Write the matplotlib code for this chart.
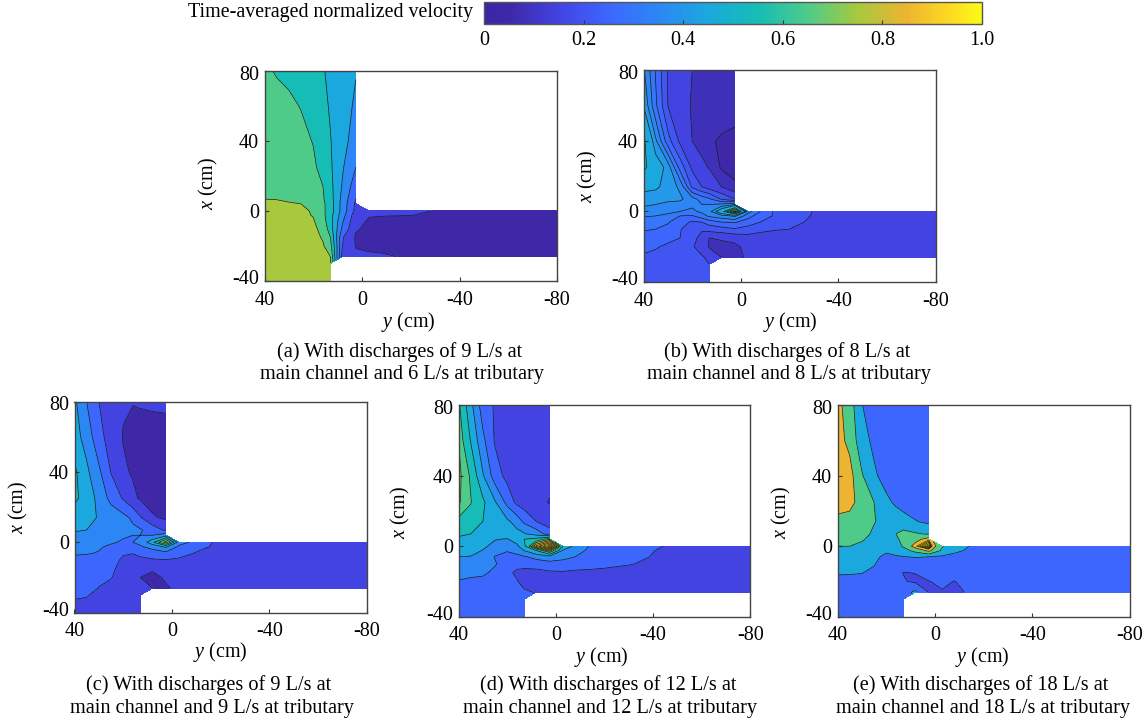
import numpy as np
import matplotlib
matplotlib.use('Agg')
import matplotlib.pyplot as plt
from matplotlib.cm import ScalarMappable
from matplotlib.colors import LinearSegmentedColormap, Normalize
from matplotlib.transforms import ScaledTranslation

plt.rcParams['font.family'] = ['Liberation Serif', 'DejaVu Serif']
plt.rcParams['mathtext.fontset'] = 'custom'
plt.rcParams['mathtext.rm'] = 'Liberation Serif'
plt.rcParams['mathtext.it'] = 'Liberation Serif:italic'

W, H = 1148, 723

# nodes of the velocity tables (cm)
y_nodes = [40, 35, 30, 25, 20, 16, 13, 8, 2.5, -3, -8, -14, -20, -30, -45, -80]
x_nodes = [80, 60, 40, 25, 14, 7, 4, 0, -2.5, -6, -10, -15, -20, -26, -30, -40]

# colours
bar_stops = [0, 0.05, 0.15, 0.25, 0.35, 0.45, 0.55, 0.65, 0.75, 0.85, 0.95, 1]
bar_colors = ['#3B26A5', '#3E28A8', '#4343E3', '#3D66FF', '#2C87F4', '#1BA8DE',
              '#15BDB6', '#4ECB8A', '#A6C93E', '#EDB431', '#FFE020', '#F9FB15']
bar_ticks = [0, 0.2, 0.4, 0.6, 0.8, 1.0]
bar_labels = ['0', '0.2', '0.4', '0.6', '0.8', '1.0']

# velocity tables, one row per x node. Rows stop where the channel wall is.
vel_a = [
    [.62, .59, .575, .55, .525, .505, .485, .45, .405],
    [.66, .64, .62, .595, .565, .525, .49, .44, .385],
    [.68, .67, .655, .63, .595, .55, .505, .43, .36],
    [.69, .68, .67, .65, .62, .56, .515, .41, .30],
    [.695, .69, .68, .67, .64, .60, .53, .39, .24],
    [.697, .695, .69, .68, .65, .61, .54, .37, .20],
    [.73, .72, .705, .70, .66, .62, .55, .36, .18],
    [.74, .735, .73, .72, .69, .62, .55, .36, .17, .13, .12, .115, .11, .098, .085, .07],
    [.74, .735, .73, .72, .695, .625, .54, .34, .14, .105, .103, .102, .101, .09, .08, .07],
    [.75, .745, .74, .73, .71, .64, .54, .31, .125, .09, .085, .08, .08, .075, .07, .065],
    [.76, .755, .75, .74, .72, .67, .55, .28, .11, .08, .075, .07, .07, .065, .065, .06],
    [.77, .765, .76, .75, .73, .69, .60, .21, .09, .07, .07, .065, .065, .06, .06, .06],
    [.78, .775, .77, .76, .745, .71, .64, .20, .095, .075, .07, .065, .065, .06, .06, .06],
    [.80, .79, .78, .77, .76, .74, .70, .15, .115, .12, .115, .10, .09, .085, .08, .07],
    [.80, .80, .79, .78, .77, .75, .72],
    [.80, .80, .79, .79, .78, .77, .75],
]
vel_b = [
    [.36, .245, .145, .12, .10, .09, .085, .08, .075],
    [.40, .26, .15, .125, .095, .09, .085, .08, .075],
    [.52, .36, .22, .14, .10, .085, .065, .055, .05],
    [.52, .44, .38, .23, .14, .11, .098, .055, .05],
    [.42, .41, .38, .34, .19, .15, .125, .10, .065],
    [.37, .37, .365, .36, .32, .28, .26, .195, .15],
    [.36, .35, .335, .33, .31, .30, .30, .31, .35],
    [.325, .32, .315, .30, .29, .31, .33, .46, .68, .32, .25, .19, .175, .148, .13, .12],
    [.305, .30, .285, .25, .245, .28, .31, .33, .36, .27, .22, .195, .18, .145, .13, .12],
    [.275, .265, .255, .215, .195, .20, .225, .25, .255, .225, .20, .175, .165, .14, .125, .115],
    [.255, .25, .235, .205, .16, .155, .17, .18, .195, .18, .165, .155, .15, .13, .12, .11],
    [.23, .225, .215, .20, .165, .135, .10, .105, .115, .13, .125, .12, .115, .11, .105, .105],
    [.21, .205, .19, .175, .155, .13, .095, .088, .09, .115, .12, .118, .115, .11, .105, .102],
    [.195, .185, .175, .165, .155, .155, .14, .10, .09, .105, .115, .115, .11, .105, .102, .102],
    [.18, .175, .17, .165, .16, .155, .15],
    [.17, .17, .165, .165, .16, .16, .155],
]
vel_c = [
    [.42, .30, .20, .16, .11, .102, .105, .11, .115],
    [.44, .36, .23, .16, .095, .085, .08, .075, .07],
    [.52, .42, .32, .195, .115, .09, .08, .07, .065],
    [.52, .46, .37, .27, .19, .12, .09, .07, .065],
    [.45, .44, .39, .36, .33, .28, .21, .11, .085],
    [.41, .40, .37, .35, .33, .32, .31, .26, .18],
    [.38, .37, .355, .34, .31, .30, .30, .30, .36],
    [.35, .345, .34, .31, .29, .30, .32, .47, .75, .34, .29, .21, .185, .16, .14, .13],
    [.33, .325, .31, .285, .265, .27, .29, .33, .42, .28, .25, .205, .185, .155, .135, .125],
    [.315, .31, .295, .265, .21, .205, .23, .26, .275, .24, .205, .18, .165, .14, .13, .12],
    [.27, .265, .255, .235, .185, .165, .175, .19, .198, .185, .175, .16, .15, .135, .125, .115],
    [.25, .245, .235, .22, .165, .125, .103, .105, .12, .13, .13, .13, .125, .12, .115, .11],
    [.23, .225, .215, .205, .15, .125, .10, .09, .105, .12, .125, .125, .12, .115, .11, .105],
    [.24, .225, .198, .17, .15, .135, .125, .10, .095, .11, .12, .12, .115, .11, .105, .105],
    [.21, .205, .18, .16, .15, .14, .13],
    [.17, .165, .16, .15, .15, .145, .14],
]
vel_d = [
    [.62, .43, .25, .19, .18, .17, .165, .16, .155],
    [.66, .495, .325, .19, .17, .16, .155, .15, .145],
    [.68, .59, .41, .25, .17, .155, .145, .13, .12],
    [.67, .605, .52, .41, .27, .175, .15, .12, .096],
    [.58, .56, .50, .46, .42, .36, .28, .20, .15],
    [.51, .50, .47, .46, .44, .43, .41, .36, .25],
    [.49, .46, .43, .405, .395, .44, .50, .53, .66],
    [.465, .46, .42, .37, .35, .38, .47, .80, 1.0, .50, .37, .295, .26, .23, .198, .16],
    [.445, .44, .395, .34, .31, .34, .40, .50, .70, .38, .33, .285, .255, .225, .19, .155],
    [.40, .395, .36, .295, .25, .27, .29, .33, .36, .33, .30, .27, .245, .22, .185, .15],
    [.37, .365, .345, .31, .24, .225, .235, .25, .265, .26, .25, .235, .225, .205, .175, .14],
    [.33, .325, .32, .275, .22, .185, .17, .165, .185, .19, .18, .18, .175, .17, .15, .13],
    [.295, .28, .27, .25, .215, .205, .175, .145, .145, .15, .15, .15, .15, .145, .135, .125],
    [.27, .265, .255, .24, .23, .22, .21, .195, .15, .14, .14, .135, .135, .13, .125, .12],
    [.26, .255, .25, .24, .235, .23, .225],
    [.25, .25, .245, .24, .235, .23, .23],
]
vel_e = [
    [.86, .70, .405, .33, .30, .29, .285, .28, .275],
    [.87, .75, .47, .36, .31, .30, .295, .29, .285],
    [.89, .87, .62, .43, .33, .31, .30, .29, .28],
    [.88, .86, .72, .60, .44, .37, .33, .30, .29],
    [.75, .73, .70, .61, .54, .50, .47, .41, .36],
    [.70, .68, .66, .57, .55, .60, .66, .62, .58],
    [.66, .65, .62, .54, .50, .58, .63, .72, .89],
    [.60, .60, .56, .50, .47, .52, .62, .89, 1.0, .62, .48, .40, .36, .33, .30, .28],
    [.58, .57, .53, .47, .42, .47, .52, .66, .85, .56, .44, .375, .35, .32, .295, .275],
    [.53, .52, .49, .43, .37, .38, .395, .41, .40, .37, .345, .33, .32, .30, .285, .27],
    [.47, .46, .44, .41, .33, .31, .31, .32, .33, .32, .31, .30, .295, .28, .27, .265],
    [.41, .41, .405, .37, .31, .27, .195, .205, .27, .285, .285, .28, .275, .27, .265, .26],
    [.37, .365, .35, .33, .30, .27, .215, .17, .195, .23, .195, .25, .26, .26, .255, .25],
    [.35, .34, .33, .31, .30, .30, .32, .44, .19, .19, .19, .205, .24, .25, .25, .245],
    [.33, .33, .32, .31, .30, .30, .30],
    [.30, .30, .30, .29, .285, .28, .28],
]

# contour levels and the colour bar position used to fill each band
levels_a = [0, .1, .2, .3, .4, .5, .6, .7, .8, .9, 1.0]
shades_a = [.05, .15, .25, .35, .45, .55, .65, .75, .85, .95]
levels_b = [0, .06, .1, .15, .2, .25, .3, .35, .4, .5, .55, .6, .65, .7]
shades_b = [.05, .08, .15, .2, .25, .3, .35, .4, .45, .55, .6, .65, .7]
levels_c = [0, .1, .2, .3, .4, .5, .6, .7, .8]
shades_c = [.05, .15, .25, .35, .45, .55, .65, .75]
levels_d = [0, .1, .2, .3, .4, .5, .6, .66, .72, .78, .84, .9, .96, 1.0]
shades_d = [.05, .15, .25, .35, .45, .55, .65, .72, .78, .84, .88, .93, 1.0]
levels_e = [0, .2, .4, .6, .8, .9, .92, .94, .96, .98, 1.0]
shades_e = [.15, .25, .45, .65, .85, .93, .95, .97, .99, 1.0]

# panel box in pixels: left, right, top, bottom
panels = [
    (vel_a, levels_a, shades_a, (264.5, 557, 70.7, 281)),
    (vel_b, levels_b, shades_b, (643.5, 935.7, 70.5, 282)),
    (vel_c, levels_c, shades_c, (74.5, 366.7, 401.5, 612.7)),
    (vel_d, levels_d, shades_d, (458.5, 750.3, 405.3, 616.7)),
    (vel_e, levels_e, shades_e, (837.5, 1129.7, 405.3, 616.7)),
]
x_labels = [(208, 183), (587, 176), (18, 507), (400, 512), (781, 512)]
y_labels = [(408, 322), (790, 322), (220, 652), (601, 657), (982, 657)]
captions = [
    ('(a) With discharges of 9 L/s at', 400, 352), ('main channel and 6 L/s at tributary', 402, 374),
    ('(b) With discharges of 8 L/s at', 787, 352), ('main channel and 8 L/s at tributary', 789, 374),
    ('(c) With discharges of 9 L/s at', 209, 685), ('main channel and 9 L/s at tributary', 212, 708),
    ('(d) With discharges of 12 L/s at', 608, 685), ('main channel and 12 L/s at tributary', 610, 708),
    ('(e) With discharges of 18 L/s at', 981, 685), ('main channel and 18 L/s at tributary', 983, 708),
]

cmap = LinearSegmentedColormap.from_list('bar', list(zip(bar_stops, bar_colors)))


def px_axes(fig, box):
    left, right, top, bottom = box
    return fig.add_axes([left / W, 1 - bottom / H, (right - left) / W, (bottom - top) / H])


def table(rows):
    # short rows are filled with nan, the part outside the channels
    z = np.full((len(x_nodes), len(y_nodes)), np.nan)
    for i, row in enumerate(rows):
        z[i, :len(row)] = row
    return np.ma.masked_invalid(z)


fig = plt.figure(figsize=(W / 100, H / 100), dpi=100)

for rows, levels, shades, box in panels:
    ax = px_axes(fig, box)
    z = table(rows)
    colors = [cmap(s) for s in shades]
    ax.contourf(y_nodes, x_nodes, z, levels=levels, colors=colors, corner_mask=True)
    ax.contour(y_nodes, x_nodes, z, levels=levels[1:-1], colors='#1a1a1a', linewidths=0.5, corner_mask=True)
    ax.set_xlim(40, -80)
    ax.set_ylim(-40, 80)
    ax.set_xticks([40, 0, -40, -80])
    ax.set_xticklabels(['40', '0', '-40', '-80'])
    ax.set_yticks([80, 40, 0, -40])
    ax.set_yticklabels(['80', '40', '0', '-40'])
    ax.tick_params(direction='in', length=3, width=0.8, labelsize=14.5, color='#333333')
    ax.tick_params(axis='x', pad=7)
    ax.tick_params(axis='y', pad=4)
    # end labels of the x axis sit a little inside the frame
    top_lab = ax.get_yticklabels()[0]
    low_lab = ax.get_yticklabels()[3]
    top_lab.set_transform(top_lab.get_transform() + ScaledTranslation(0, -2 / 100, fig.dpi_scale_trans))
    low_lab.set_transform(low_lab.get_transform() + ScaledTranslation(0, 4 / 100, fig.dpi_scale_trans))
    for s in ax.spines.values():
        s.set_linewidth(1.0)
        s.set_color('#444444')

for px, py in x_labels:
    fig.text(px / W, 1 - py / H, '$x$ (cm)', rotation=90, ha='center', va='center', fontsize=14.5)
for px, py in y_labels:
    fig.text(px / W, 1 - py / H, '$y$ (cm)', ha='center', va='center', fontsize=14.5)
for txt, px, py in captions:
    fig.text(px / W, 1 - py / H, txt, ha='center', va='center', fontsize=14.6)

# colour bar on top
cax = px_axes(fig, (484, 982, 2, 24))
cb = fig.colorbar(ScalarMappable(norm=Normalize(0, 1), cmap=cmap), cax=cax, orientation='horizontal')
cb.set_ticks(bar_ticks)
cb.set_ticklabels(bar_labels)
cax.tick_params(direction='in', length=3, width=0.8, labelsize=14.5, pad=5, color='#333333')
cb.outline.set_linewidth(1.0)
cb.outline.set_edgecolor('#555555')
fig.text(473 / W, 1 - 13 / H, 'Time-averaged normalized velocity', ha='right', va='center', fontsize=14.4)

fig.savefig('out.png', dpi=100)
